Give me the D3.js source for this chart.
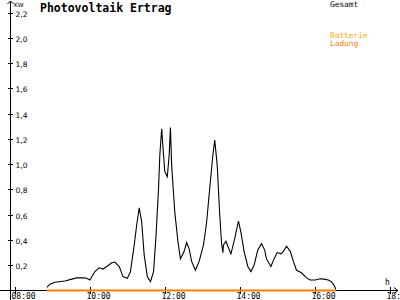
<!DOCTYPE html>
<html>
<head>
<meta charset="utf-8">
<script src="https://cdn.jsdelivr.net/npm/d3@7"></script>
<style>
  body { margin: 0; background: #fff; }
  svg { display: block; }
</style>
</head>
<body>
<script>
// Width and height
var w = 400;
var h = 300;

// times of the samples (hh:mm) and the total yield in kW
var times = ["08:51","08:56","09:04","09:20","09:31","09:39","09:49","09:55","10:00","10:08",
             "10:15","10:21","10:27","10:35","10:40","10:47","10:53","11:00","11:05","11:11",
             "11:15","11:19","11:23","11:27","11:32","11:37","11:42","11:46","11:50","11:52",
             "11:55","11:58","12:00","12:04","12:07","12:09","12:11","12:16","12:21","12:25",
             "12:31","12:35","12:39","12:43","12:49","12:55","13:02","13:07","13:12","13:17",
             "13:20","13:24","13:28","13:31","13:33","13:34","13:38","13:41","13:46","13:52",
             "13:58","14:02","14:07","14:13","14:18","14:23","14:29","14:35","14:40","14:43",
             "14:50","14:55","15:00","15:06","15:10","15:15","15:21","15:26","15:31","15:39",
             "15:47","15:53","16:01","16:09","16:15","16:22","16:27","16:31","16:34"];
var gesamt = [0.025,0.05,0.065,0.075,0.09,0.10,0.10,0.097,0.083,0.15,
              0.18,0.17,0.19,0.22,0.225,0.19,0.11,0.096,0.15,0.36,
              0.52,0.655,0.54,0.28,0.11,0.07,0.15,0.44,0.81,1.07,
              1.28,1.07,0.94,0.90,1.07,1.29,0.99,0.62,0.39,0.25,
              0.31,0.38,0.33,0.23,0.16,0.23,0.36,0.54,0.81,1.07,
              1.19,0.99,0.60,0.37,0.30,0.36,0.39,0.35,0.29,0.41,
              0.55,0.46,0.31,0.19,0.15,0.20,0.32,0.37,0.32,0.25,
              0.19,0.25,0.30,0.29,0.31,0.35,0.31,0.23,0.16,0.14,
              0.10,0.083,0.083,0.093,0.09,0.083,0.07,0.043,0.01];
// battery charging stays at zero the whole day
var ladung = times.map(function(){ return 0; });

var yTicks = [0.2,0.4,0.6,0.8,1.0,1.2,1.4,1.6,1.8,2.0,2.2];
var xTicks = ["08:00","10:00","12:00","14:00","16:00","18:00"];
var legendNames = ["Gesamt","Batterie","Ladung"];
var legendColors = ["#000000","#ffa800","#ff8000"];

var parse = d3.timeParse("%H:%M");

var x = d3.scaleTime()
          .domain([parse("08:00"), parse("18:00")])
          .range([15, 389.5]);
var y = d3.scaleLinear()
          .domain([0, 2.2])
          .range([290.5, 12.5]);

var svg = d3.select("body")
            .append("svg")
            .attr("width", w)
            .attr("height", h);

// x axis with arrow
svg.append("line")
   .attr("x1", 0).attr("x2", 398)
   .attr("y1", 290.5).attr("y2", 290.5)
   .style("stroke", "black");
svg.append("path")
   .attr("d", "M394,287.5 L398,290.5 L394,293.5")
   .style("fill", "none").style("stroke", "black");

// y axis with arrow
svg.append("line")
   .attr("x1", 10.5).attr("x2", 10.5)
   .attr("y1", 300).attr("y2", 1)
   .style("stroke", "black");
svg.append("path")
   .attr("d", "M7.5,4 L10.5,1 L13.5,4")
   .style("fill", "none").style("stroke", "black");

// y ticks
var yt = svg.append("g").selectAll("g")
            .data(yTicks)
            .enter()
            .append("g")
            .attr("transform", function(d){ return "translate(0," + Math.round(y(d)) + ")"; });
yt.append("line")
  .attr("x1", 8).attr("x2", 13)
  .attr("y1", 0.5).attr("y2", 0.5)
  .style("stroke", "black");
yt.append("text")
  .attr("x", 15.5)
  .attr("y", 3.5)
  .style("font-family", "'DejaVu Sans'")
  .style("font-size", "7.5px")
  .text(function(d){ return d.toFixed(1).replace(".", ","); });

// x ticks
var xt = svg.append("g").selectAll("g")
            .data(xTicks)
            .enter()
            .append("g")
            .attr("transform", function(d){ return "translate(" + Math.round(x(parse(d))) + ",0)"; });
xt.append("line")
  .attr("x1", 0.5).attr("x2", 0.5)
  .attr("y1", 287).attr("y2", 294)
  .style("stroke", "black");
xt.append("text")
  .attr("x", -3.5)
  .attr("y", 298.5)
  .style("font-family", "'DejaVu Sans Mono'")
  .style("font-size", "8px")
  .text(function(d){ return d; });

// axis units
svg.append("text")
   .attr("x", 14).attr("y", 7)
   .style("font-family", "'DejaVu Sans'")
   .style("font-size", "6px")
   .text("KW");
svg.append("text")
   .attr("x", 385).attr("y", 285)
   .style("font-family", "'DejaVu Sans Mono'")
   .style("font-size", "8px")
   .text("h");

// title
svg.append("text")
   .attr("x", 40).attr("y", 12)
   .style("font-family", "'DejaVu Sans Mono'")
   .style("font-weight", "bold")
   .style("font-size", "11.5px")
   .text("Photovoltaik Ertrag");

// legend
var legendY = [7.3, 38.3, 46];
svg.append("g").selectAll("text")
   .data(legendNames)
   .enter()
   .append("text")
   .attr("x", 330)
   .attr("y", function(d, i){ return legendY[i]; })
   .style("font-family", "'DejaVu Sans Mono'")
   .style("font-size", "7.8px")
   .style("fill", function(d, i){ return legendColors[i]; })
   .text(function(d){ return d; });

// battery charging line (on the zero line)
var lineLadung = d3.line()
                   .x(function(d, i){ return x(parse(times[i])); })
                   .y(function(d){ return y(d); });
svg.append("path")
   .attr("d", lineLadung(ladung))
   .style("fill", "none")
   .style("stroke", legendColors[2])
   .style("stroke-width", 2);

// total yield line
var lineGesamt = d3.line()
                   .x(function(d, i){ return x(parse(times[i])); })
                   .y(function(d){ return y(d); });
svg.append("path")
   .attr("d", lineGesamt(gesamt))
   .style("fill", "none")
   .style("stroke", "black")
   .style("stroke-width", 1.1);
</script>
</body>
</html>
